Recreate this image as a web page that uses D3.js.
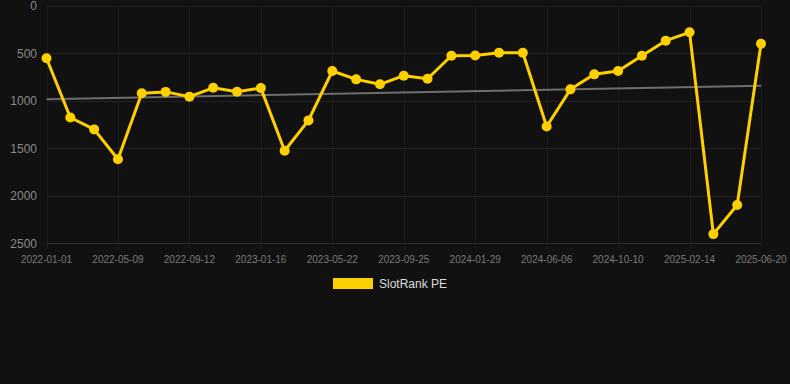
<!DOCTYPE html>
<html><head><meta charset="utf-8">
<script src="https://cdn.jsdelivr.net/npm/d3@7"></script>
<style>
html,body{margin:0;padding:0;background:#111111;}
svg{display:block;font-family:"Liberation Sans",Arial,Helvetica,sans-serif;}
</style></head>
<body><svg id="c" width="790" height="384"></svg>
<script>
const dates = ["2022-01-01","2022-02-13","2022-03-27","2022-05-09","2022-06-20","2022-08-01","2022-09-12","2022-10-24","2022-12-05","2023-01-16","2023-02-27","2023-04-10","2023-05-22","2023-07-03","2023-08-14","2023-09-25","2023-11-06","2023-12-18","2024-01-29","2024-03-12","2024-04-24","2024-06-06","2024-07-18","2024-08-29","2024-10-10","2024-11-21","2025-01-02","2025-02-14","2025-03-28","2025-05-09","2025-06-20"];
const ranks = [551,1175,1300,1615,920,905,955,862,903,865,1525,1205,685,773,825,734,766,524,522,492,492,1270,878,720,685,524,365,277,2403,2097,397];
const tickLabels = ["2022-01-01","2022-05-09","2022-09-12","2023-01-16","2023-05-22","2023-09-25","2024-01-29","2024-06-06","2024-10-10","2025-02-14","2025-06-20"];
const yTicks = [0,500,1000,1500,2000,2500];
const trendValues = [983, 840];
const seriesName = "SlotRank PE";

(function(){
const svg = d3.select("#c");
const pL = 46.5, pR = 761, pT = 6, pB = 243.3;
const x = d3.scalePoint().domain(dates).range([pL, pR]);
const y = d3.scaleLinear().domain([0, 2500]).range([pT, pB]);

// grid
const g = svg.append("g");
g.selectAll("line.v").data(tickLabels).join("line").attr("class","v")
  .attr("x1", d => Math.round(x(d)) + 0.5).attr("x2", d => Math.round(x(d)) + 0.5)
  .attr("y1", pT).attr("y2", pB + 6)
  .attr("stroke", "#1b1b1b").attr("stroke-width", 1);
g.selectAll("line.h").data(yTicks).join("line").attr("class","h")
  .attr("x1", pL).attr("x2", pR)
  .attr("y1", d => Math.round(y(d)) + 0.5).attr("y2", d => Math.round(y(d)) + 0.5)
  .attr("stroke", d => d === 2500 ? "#2a2a2a" : "#212121").attr("stroke-width", 1);

// y axis labels
svg.append("g").selectAll("text").data(yTicks).join("text")
  .attr("x", 37).attr("y", d => y(d)).attr("dy", "0.35em")
  .attr("text-anchor", "end").attr("fill", "#8a8a8a").attr("font-size", 12)
  .text(d => d);

// x axis labels
svg.append("g").selectAll("text").data(tickLabels).join("text")
  .attr("x", d => x(d)).attr("y", 259.5).attr("dy", "0.35em")
  .attr("text-anchor", "middle").attr("fill", "#7a7a7a").attr("font-size", 10)
  .text(d => d);

// trend line
svg.append("line")
  .attr("x1", x(dates[0])).attr("x2", x(dates[dates.length - 1]))
  .attr("y1", y(trendValues[0])).attr("y2", y(trendValues[1]))
  .attr("stroke", "#6e6e6e").attr("stroke-width", 2);

// series line
const data = dates.map((d, i) => ({d, v: ranks[i]}));
svg.append("path").datum(data)
  .attr("fill", "none").attr("stroke", "#ffd000").attr("stroke-width", 3)
  .attr("stroke-linejoin", "round")
  .attr("d", d3.line().x(p => x(p.d)).y(p => y(p.v)));
svg.append("g").selectAll("circle").data(data).join("circle")
  .attr("cx", p => x(p.d)).attr("cy", p => y(p.v)).attr("r", 5)
  .attr("fill", "#ffd000");

// legend
svg.append("rect").attr("x", 333).attr("y", 278).attr("width", 40).attr("height", 11).attr("fill", "#ffd000");
svg.append("text").attr("x", 379).attr("y", 284).attr("dy", "0.35em")
  .attr("fill", "#dddddd").attr("font-size", 12).text(seriesName);
})();
</script>
</body></html>
